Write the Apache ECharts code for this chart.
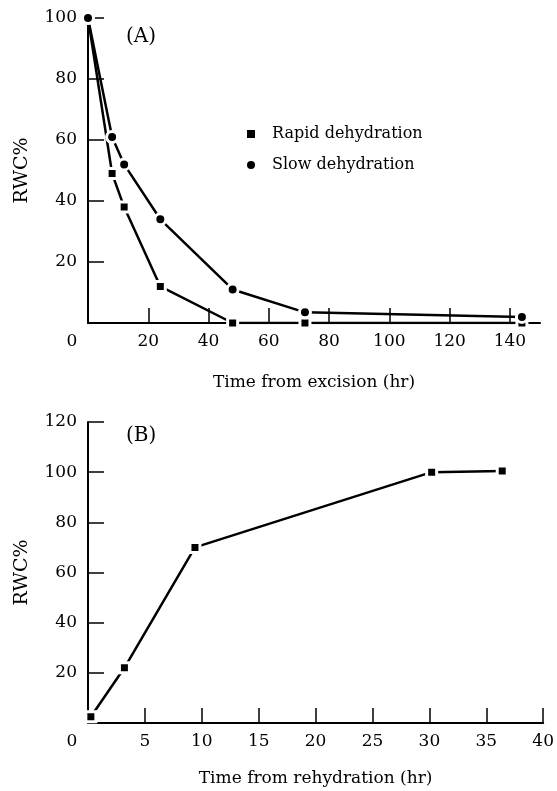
<!DOCTYPE html>
<html>
<head>
<meta charset="utf-8">
<script src="https://cdn.jsdelivr.net/npm/echarts@6/dist/echarts.min.js"></script>
<style>
  html, body { margin: 0; padding: 0; background: #fff; }
  #chart { width: 557px; height: 791px; }
</style>
</head>
<body>
<div id="chart"></div>
<script>
// panel A: time from excision (hr) vs RWC%
const timeRapid = [0, 8, 12, 24, 48, 72, 144];
const rwcRapid = [100, 49, 38, 12, 0, 0, 0];
const timeSlow = [0, 8, 12, 24, 48, 72, 144];
const rwcSlow = [100, 61, 52, 34, 11, 3.5, 2];
const ticksA_x = [20, 40, 60, 80, 100, 120, 140];
const ticksA_y = [20, 40, 60, 80, 100];

// panel B: time from rehydration (hr) vs RWC%
const timeRehyd = [0.25, 3.2, 9.4, 30.2, 36.4];
const rwcRehyd = [2.5, 22, 70, 100, 100.5];
const ticksB_x = [5, 10, 15, 20, 25, 30, 35, 40];
const ticksB_y = [20, 40, 60, 80, 100, 120];

const FONT = 'DejaVu Serif';
const chart = echarts.init(document.getElementById('chart'));

function xAxis(idx, max, ticks, name, gap) {
  return {
    type: 'value', gridIndex: idx, min: 0, max: max,
    name: name, nameLocation: 'middle', nameGap: gap,
    nameTextStyle: { fontFamily: FONT, fontSize: 17, color: '#000' },
    axisLine: { lineStyle: { color: '#000', width: 2 } },
    axisTick: { inside: true, length: 15, customValues: ticks, lineStyle: { color: '#000', width: 1.5 } },
    axisLabel: {
      customValues: [0].concat(ticks), margin: 10,
      fontFamily: FONT, fontSize: 17, color: '#000',
      formatter: v => v === 0 ? '{z|0}' : String(v),
      rich: { z: { fontFamily: FONT, fontSize: 17, color: '#000', padding: [0, 32, 0, 0] } }
    },
    splitLine: { show: false }
  };
}

function yAxis(idx, max, ticks) {
  return {
    type: 'value', gridIndex: idx, min: 0, max: max,
    name: 'RWC%', nameLocation: 'middle', nameGap: 56,
    nameTextStyle: { fontFamily: FONT, fontSize: 19, color: '#000' },
    axisLine: { lineStyle: { color: '#000', width: 2 } },
    axisTick: { inside: true, length: 16, customValues: ticks, lineStyle: { color: '#000', width: 1.5 } },
    axisLabel: { customValues: ticks, margin: 11, fontFamily: FONT, fontSize: 17, color: '#000' },
    splitLine: { show: false }
  };
}

function lineSeries(name, xs, ys, symbol, size, idx) {
  return {
    name: name, type: 'line', xAxisIndex: idx, yAxisIndex: idx,
    data: xs.map((x, i) => [x, ys[i]]),
    symbol: symbol, symbolSize: size,
    lineStyle: { color: '#000', width: 2.5 },
    itemStyle: { color: '#000', borderColor: '#fff', borderWidth: 3 },
    showAllSymbol: true, animation: false
  };
}

chart.setOption({
  backgroundColor: '#fff',
  animation: false,
  title: [
    { text: '(A)', left: 121, top: 22, textStyle: { fontFamily: FONT, fontSize: 20, fontWeight: 'normal', color: '#000' } },
    { text: '(B)', left: 121, top: 421, textStyle: { fontFamily: FONT, fontSize: 20, fontWeight: 'normal', color: '#000' } }
  ],
  legend: {
    left: 242, top: 120, orient: 'vertical',
    itemWidth: 8, itemHeight: 8, itemGap: 13,
    itemStyle: { borderWidth: 0 },
    textStyle: { fontFamily: FONT, fontSize: 16, color: '#000', lineHeight: 18, padding: [0, 0, 0, 12] },
    data: [
      { name: 'Rapid dehydration', icon: 'rect' },
      { name: 'Slow dehydration', icon: 'circle' }
    ]
  },
  grid: [
    { left: 88, top: 18, width: 452, height: 305 },
    { left: 88, top: 422, width: 458, height: 301 }
  ],
  xAxis: [
    xAxis(0, 150, ticksA_x, 'Time from excision (hr)', 51),
    xAxis(1, 40, ticksB_x, 'Time from rehydration (hr)', 47)
  ],
  yAxis: [
    yAxis(0, 100, ticksA_y),
    yAxis(1, 120, ticksB_y)
  ],
  series: [
    lineSeries('Rapid dehydration', timeRapid, rwcRapid, 'rect', 10, 0),
    lineSeries('Slow dehydration', timeSlow, rwcSlow, 'circle', 11, 0),
    lineSeries('Rehydration', timeRehyd, rwcRehyd, 'rect', 10, 1)
  ]
});
</script>
</body>
</html>
